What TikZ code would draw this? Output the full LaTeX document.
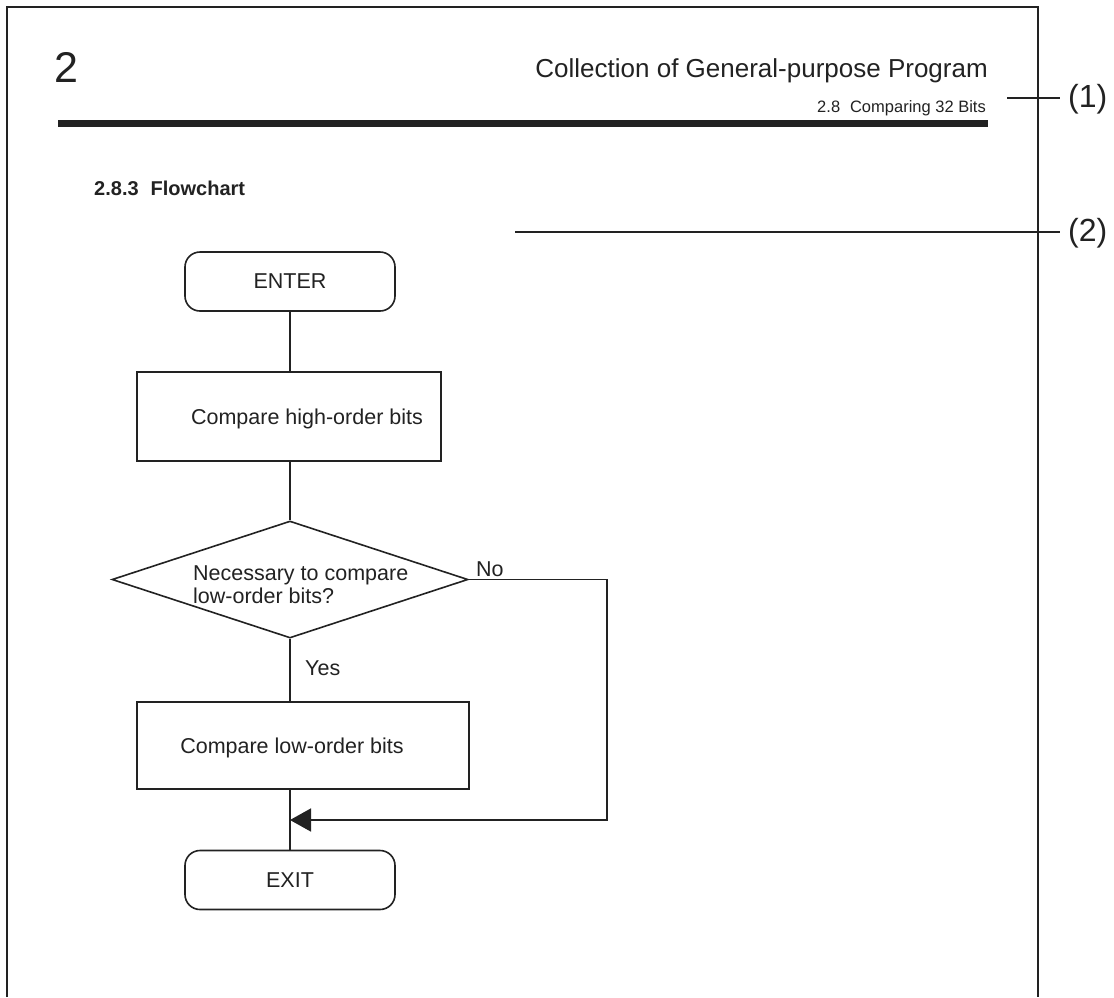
\documentclass[tikz,border=0pt]{standalone}
\usepackage{fontspec}
\setmainfont{Liberation Sans}
\usetikzlibrary{shapes.geometric,arrows.meta}
\definecolor{inkc}{HTML}{222222}
\begin{document}
\begin{tikzpicture}[x=1pt,y=-1pt,
  ink/.style={draw=inkc, line width=1.6pt},
  terminal/.style={ink, rounded corners=15pt, minimum width=210pt, minimum height=59pt,
    inner sep=0pt, font=\fontsize{21.5}{26}\selectfont, text=inkc},
  process/.style={ink, inner sep=0pt},
  decision/.style={ink, diamond, inner sep=0pt, minimum width=356pt, minimum height=117pt},
  label/.style={inner sep=0pt, text=inkc, font=\fontsize{21.5}{23}\selectfont},
  conn/.style={ink},
  flowarrow/.style={ink, -{Triangle[length=21pt,width=23pt]}},
  leader/.style={draw=inkc, line width=1.4pt},
  callout/.style={anchor=west, inner sep=0pt, text=inkc, font=\fontsize{32}{32}\selectfont},
  frame/.style={draw=inkc, line width=1.5pt}]

% page area
\useasboundingbox (0,0) rectangle (1114,997);
\fill[white] (0,0) rectangle (1114,997);

% page frame, open at the bottom
\coordinate (f1) at (7,997);
\coordinate (f2) at (7,7);
\coordinate (f3) at (1038,7);
\coordinate (f4) at (1038,997);
\draw[frame] (f1) -- (f2) -- (f3) -- (f4);

% running header
\node[anchor=base west, inner sep=0pt, text=inkc, font=\fontsize{43}{43}\selectfont] (chap) at (54,82) {2};
\node[anchor=base east, inner sep=0pt, text=inkc, font=\fontsize{26}{28}\selectfont] (title) at (988,77) {Collection of General-purpose Program};
\node[anchor=base east, inner sep=0pt, text=inkc, font=\fontsize{16.5}{18}\selectfont] (sect) at (986,112) {2.8\hspace{0.6em}Comparing 32 Bits};
\coordinate (r1) at (58,123.5);
\coordinate (r2) at (988,123.5);
\draw[inkc, line width=7.5pt] (r1) -- (r2);

% callouts with their leader lines
\node[callout] (c1) at (1068,99) {(1)};
\node[callout] (c2) at (1068,233) {(2)};
\coordinate (l1) at (1007,98);
\coordinate (l2) at (515,232);
\draw[leader] (l1) -- ([xshift=-8pt]l1 -| c1.west);
\draw[leader] (l2) -- ([xshift=-8pt]l2 -| c2.west);

% subsection heading
\node[anchor=base west, inner sep=0pt, text=inkc, font=\bfseries\fontsize{20}{22}\selectfont] (head) at (94,195) {2.8.3\hspace{0.6em}Flowchart};

% flowchart
\node[terminal] (enter) at (290,281.5) {ENTER};
\node[process, minimum width=304pt, minimum height=89pt] (high) at (289,416.5) {};
\node[label, anchor=base] (hightxt) at (307,424) {Compare high-order bits};
\node[decision] (dec) at (290,579.5) {};
\node[label, anchor=north west, align=left] (dectxt) at (193,565) {Necessary to compare\\low-order bits?};
\node[process, minimum width=332pt, minimum height=87pt] (low) at (303,745.5) {};
\node[label, anchor=base] (lowtxt) at (292,753) {Compare low-order bits};
\node[terminal] (exit) at (290,880) {EXIT};

\node[label, anchor=base west] (no) at (476,576) {No};
\node[label, anchor=base west] (yes) at (305,675) {Yes};

\coordinate (turn) at (607,820);
\coordinate (merge) at (290,820);

\draw[conn] (enter.south) -- (high.north -| enter.south);
\draw[conn] (high.south -| enter.south) -- (dec.north);
\draw[conn] (dec.south) -- (low.north -| dec.south);
\draw[conn] (low.south -| exit.north) -- (exit.north);
\draw[flowarrow] (dec.east) -| (turn) -- (merge);
\end{tikzpicture}
\end{document}
